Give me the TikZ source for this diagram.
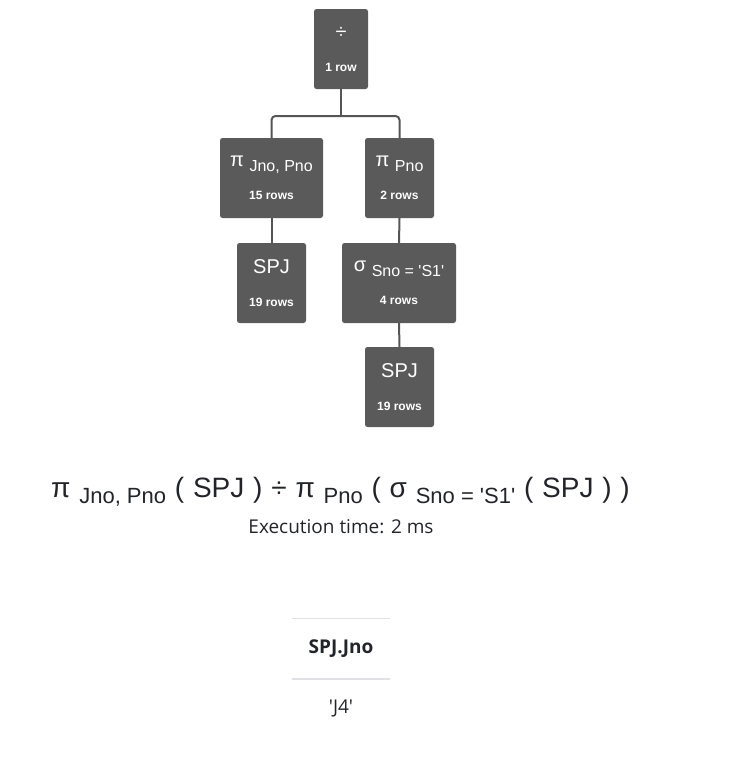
\documentclass[tikz,border=0pt]{standalone}
\usepackage{fontspec}
\usepackage{xcolor}
\setmainfont{Liberation Sans}[Ligatures=TeXOff]
\newfontfamily\uifont{Open Sans}[Ligatures=TeXOff]
\usetikzlibrary{positioning}
\definecolor{boxgrey}{HTML}{5A5A5A}
\definecolor{edgegrey}{HTML}{555555}
\definecolor{rulegrey}{HTML}{DEE2E6}
\definecolor{inkgrey}{HTML}{212529}
\newcommand{\oplab}[2]{#1 \raisebox{-4.5pt}{\fontsize{16}{16}\selectfont #2}}
\newcommand{\oprows}[1]{{\fontsize{12}{12}\selectfont\bfseries #1}}
\newcommand{\exfont}{\fontsize{28}{30}\selectfont\spaceskip=8.8pt\relax}
\newcommand{\exsub}[1]{\raisebox{-6pt}{\spaceskip=0pt\relax\fontsize{22}{22}\selectfont #1}}

\begin{document}
\begin{tikzpicture}[x=1pt, y=-1pt,
	opbox/.style={fill=boxgrey, text=white, rounded corners=2.5pt, align=center, minimum height=80pt, inner xsep=10pt, font=\fontsize{20}{33}\selectfont},
	edge/.style={draw=edgegrey, line width=2pt}]
	\useasboundingbox (0,0) rectangle (742,779);
	\node[opbox, minimum width=54pt] (div) at (341,49) {÷\\\oprows{1 row}};
	\node[opbox, minimum width=103pt] (proj1) at (271.5,178) {\oplab{π}{Jno, Pno}\\\oprows{15 rows}};
	\node[opbox, minimum width=69pt] (proj2) at (399.5,178) {\oplab{π}{Pno}\\\oprows{2 rows}};
	\node[opbox, minimum width=69pt] (spj1) at (271.5,283) {SPJ\\\oprows{19 rows}};
	\node[opbox, minimum width=114pt] (sel) at (399,283) {\oplab{σ}{Sno = 'S1'}\\\oprows{4 rows}};
	\node[opbox, minimum width=69pt] (spj2) at (399.5,387) {SPJ\\\oprows{19 rows}};
	\coordinate (fork) at (341,116);
	\draw[edge] (div.south) -- (fork);
	\draw[edge, rounded corners=4pt] (proj1.north) |- (fork) -| (proj2.north);
	\draw[edge] (proj1.south) -- (spj1.north);
	\draw[edge] (proj2.south) -- (sel.north);
	\draw[edge] (sel.south) -- (spj2.north);
	\node[text=inkgrey, anchor=base, font=\exfont] (expr) at (340.5,497)
		{π \exsub{Jno, Pno} ( SPJ ) ÷ π \exsub{Pno} ( σ \exsub{Sno = 'S1'} ( SPJ ) )};
	\node[text=inkgrey, anchor=base, font=\uifont\fontsize{19}{20}\selectfont] (time) at (341,533) {Execution time: 2 ms};
	\node[text=inkgrey, font=\uifont\bfseries\fontsize{19}{20}\selectfont, minimum width=98pt, minimum height=60pt] (head) at (341,649) {SPJ.Jno};
	\draw[rulegrey, line width=1pt] (head.north west) -- (head.north east);
	\draw[rulegrey, line width=2pt] (head.south west) -- (head.south east);
	\node[text=inkgrey, anchor=base, font=\uifont\fontsize{19}{20}\selectfont] (val) at (341,713) {'J4'};
\end{tikzpicture}
\end{document}
